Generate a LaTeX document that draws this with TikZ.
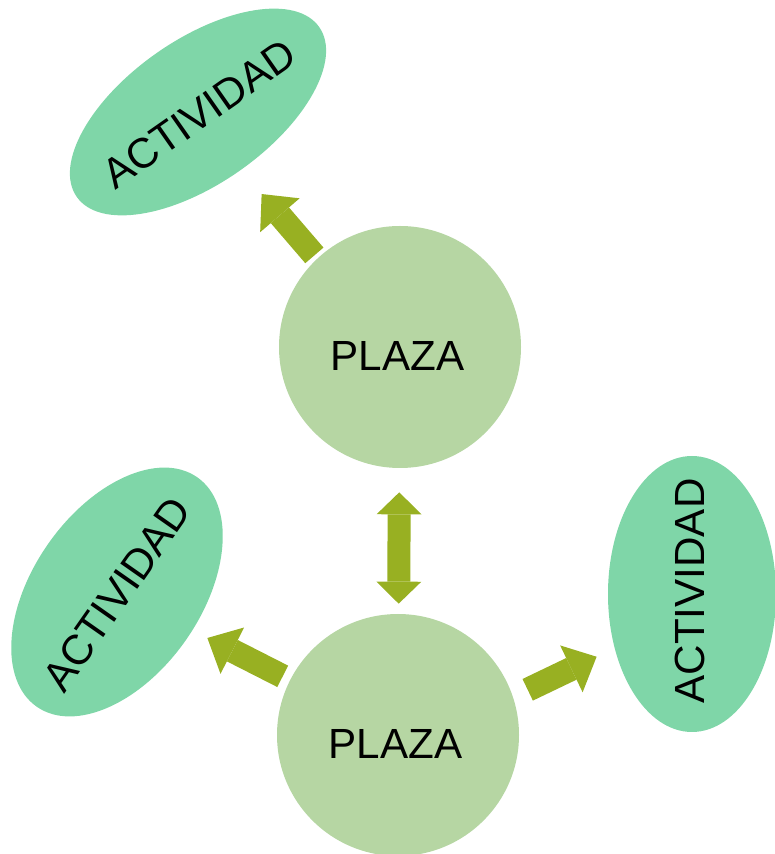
\documentclass[tikz,border=0pt]{standalone}
\usepackage{fontspec}
\setmainfont{Liberation Sans}
\usepackage{xcolor}
\usepackage{tikz}
\usetikzlibrary{arrows.meta,shapes.geometric}
\definecolor{plazagreen}{HTML}{B6D6A3}
\definecolor{actgreen}{HTML}{7FD6A8}
\definecolor{arrowolive}{HTML}{98B022}

\begin{document}
\begin{tikzpicture}[
  plaza/.style={circle, fill=plazagreen, minimum size=4.84cm, inner sep=0pt},
  label/.style={font=\fontsize{24}{28}\selectfont, text height=0.93cm, text depth=0pt, inner sep=0pt},
  activ/.style={ellipse, fill=actgreen, inner sep=0pt},
  acttxt/.style={font=\fontsize{24}{28}\selectfont, inner sep=0pt},
  arr/.style={-{Triangle[width=1.04cm, length=0.56cm, line width=0pt]},
    line width=0.48cm, draw=arrowolive},
  dblarr/.style={{Triangle[width=0.9cm, length=0.44cm, line width=0pt]}-{Triangle[width=0.9cm, length=0.44cm, line width=0pt]},
    line width=0.46cm, draw=arrowolive}
]
  \useasboundingbox (0,0) rectangle (15.5,17.08);

  \node[plaza] (plazatop) at (8.00,10.14) {};
  \node[plaza] (plazabot) at (7.96,2.38) {};
  \node[label] (plazatoptxt) at (7.95,10.14) {PLAZA};
  \node[label] (plazabottxt) at (7.91,2.38) {PLAZA};

  \node[activ, minimum width=5.92cm, minimum height=2.88cm, rotate=35] (actnw) at (3.96,14.84) {};
  \node[activ, minimum width=5.6cm, minimum height=3.36cm, rotate=55] (actw) at (2.34,5.24) {};
  \node[activ, minimum width=5.52cm, minimum height=3.36cm, rotate=90] (acte) at (13.84,5.20) {};
  \node[acttxt, rotate=35] (actnwtxt) at (3.98,14.80) {ACTIVIDAD};
  \node[acttxt, rotate=55] (actwtxt) at (2.34,5.20) {ACTIVIDAD};
  \node[acttxt, rotate=90] (actetxt) at (13.80,5.26) {ACTIVIDAD};

  \draw[arr, shorten <=0.2cm, shorten >=0.5cm, transform canvas={yshift=-0.16cm}] (plazatop) -- (actnw);
  \draw[dblarr, shorten <=0.48cm, shorten >=0.2cm] (plazatop) -- (plazabot);
  \draw[arr, shorten <=0.16cm, shorten >=0.33cm] (plazabot) -- (actw);
  \draw[arr, shorten <=0.45cm, shorten >=0.32cm, transform canvas={yshift=-0.34cm}] (plazabot) -- (acte);
\end{tikzpicture}
\end{document}
